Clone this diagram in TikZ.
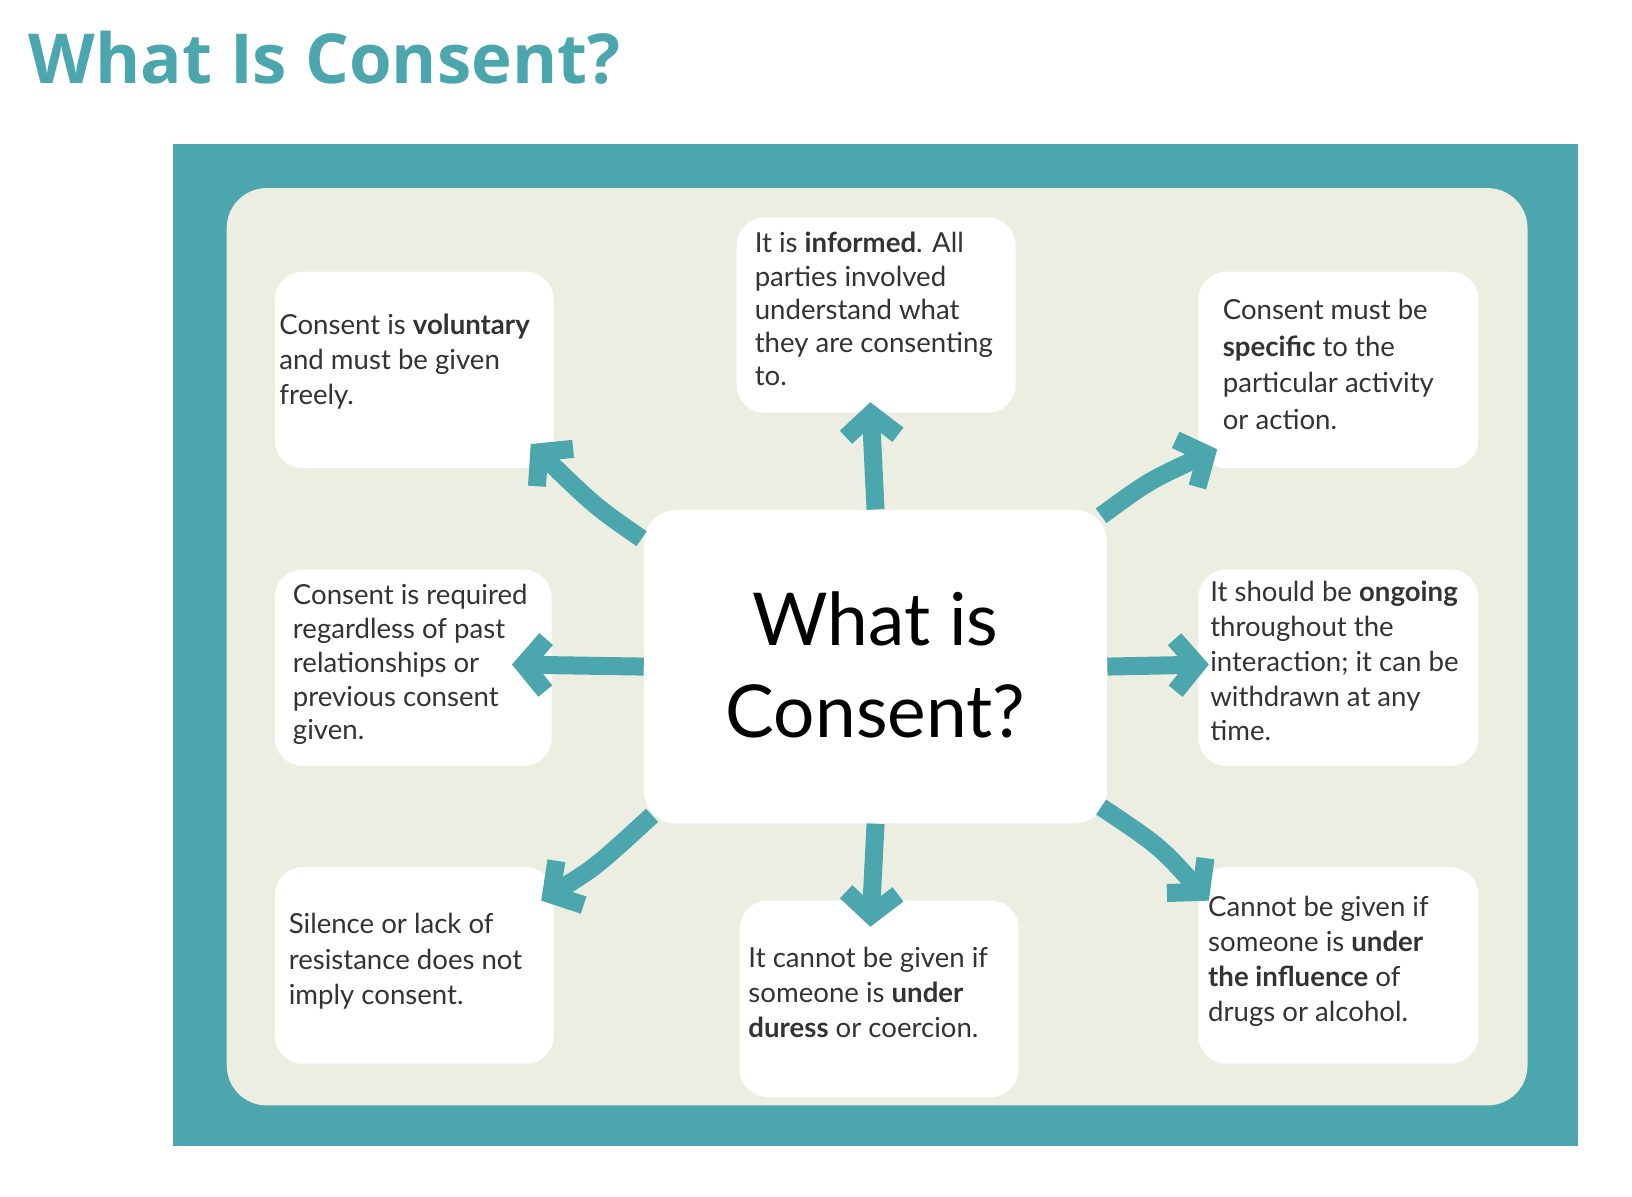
\documentclass[tikz,border=0pt]{standalone}
\usepackage{fontspec}
\setmainfont{Lato}
\newfontfamily\titlefont{Open Sans}
\usetikzlibrary{arrows.meta}
\definecolor{teal1}{HTML}{4BA6AE}
\definecolor{cream}{HTML}{ECEEE1}
\definecolor{txt}{HTML}{333333}
\begin{document}
\begin{tikzpicture}[x=0.5225pt,y=-0.5225pt,
 box/.style={fill=white,rounded corners=14pt,draw=none},
 lbl/.style={anchor=north west,align=left,inner sep=0pt,font=\fontsize{13.8}{17.6}\selectfont,text=txt},
 arr/.style={draw=teal1,line width=9pt,-{Straight Barb[length=11pt,width=26pt,line width=9pt]}}]
\useasboundingbox (0,0) rectangle (1562,1145);
\node[anchor=base west,inner sep=0pt,text=teal1,font=\titlefont\bfseries\fontsize{34.5}{40}\selectfont] (title) at (27,80) {What Is Consent?};
\fill[teal1] (166,138) rectangle (1510,1097);
\fill[cream,rounded corners=20pt] (217,180) rectangle (1462,1058);
% boxes
\path[box] (263,260) rectangle (530,448);
\path[box] (705,208) rectangle (972,395);
\path[box] (1147,260) rectangle (1415,448);
\path[box] (263,545) rectangle (528,733);
\path[box] (1147,545) rectangle (1415,733);
\path[box] (263,830) rectangle (530,1018);
\path[box] (708,862) rectangle (975,1050);
\path[box] (1147,830) rectangle (1415,1018);
\node[box,minimum width=443*0.5225pt,minimum height=300*0.5225pt,rounded corners=16pt] (c) at (838,638) {};
\node[align=center,inner sep=0pt,font=\fontsize{36.5}{46}\selectfont,text=black] (ct) at (838,636) {What is\\Consent?};
% texts
\node[lbl] (t1) at (267,300) {Consent is \textbf{voluntary}\\and must be given\\freely.};
\node[lbl,font=\fontsize{13.8}{16.6}\selectfont] (t2) at (722,222) {It is \textbf{informed}. All\\parties involved\\understand what\\they are consenting\\to.};
\node[lbl,font=\fontsize{13.8}{18.3}\selectfont] (t3) at (1170,286) {Consent must be\\\textbf{specific} to the\\particular activity\\or action.};
\node[lbl,font=\fontsize{13.8}{16.9}\selectfont] (t4) at (280,559) {Consent is required\\regardless of past\\relationships or\\previous consent\\given.};
\node[lbl,font=\fontsize{13.8}{17.4}\selectfont] (t5) at (1158,556) {It should be \textbf{ongoing}\\throughout the\\interaction; it can be\\withdrawn at any\\time.};
\node[lbl] (t6) at (276,874) {Silence or lack of\\resistance does not\\imply consent.};
\node[lbl] (t7) at (716,906) {It cannot be given if\\someone is \textbf{under}\\\textbf{duress} or coercion.};
\node[lbl] (t8) at (1156,857) {Cannot be given if\\someone is \textbf{under}\\\textbf{the influence} of\\drugs or alcohol.};
% arrows
\coordinate (e1) at (508,425); \coordinate (e2) at (833,385); \coordinate (e3) at (1165,430);
\coordinate (e4) at (490,636); \coordinate (e5) at (1157,636); \coordinate (e6) at (518,862);
\coordinate (e7) at (833,887); \coordinate (e8) at (1157,862);
\draw[arr] (c.north west)++(-2,28) .. controls (570,485) .. (e1);
\draw[arr] (c.north) -- (e2);
\draw[arr] (c.north east)++(-6,6) .. controls (1100,460) .. (e3);
\draw[arr] (c.west) -- (e4);
\draw[arr] (c.east) -- (e5);
\draw[arr] (c.south west)++(8,-8) .. controls (570,830) .. (e6);
\draw[arr] (c.south) -- (e7);
\draw[arr] (c.south east)++(-6,-16) .. controls (1110,810) .. (e8);
\end{tikzpicture}
\end{document}
